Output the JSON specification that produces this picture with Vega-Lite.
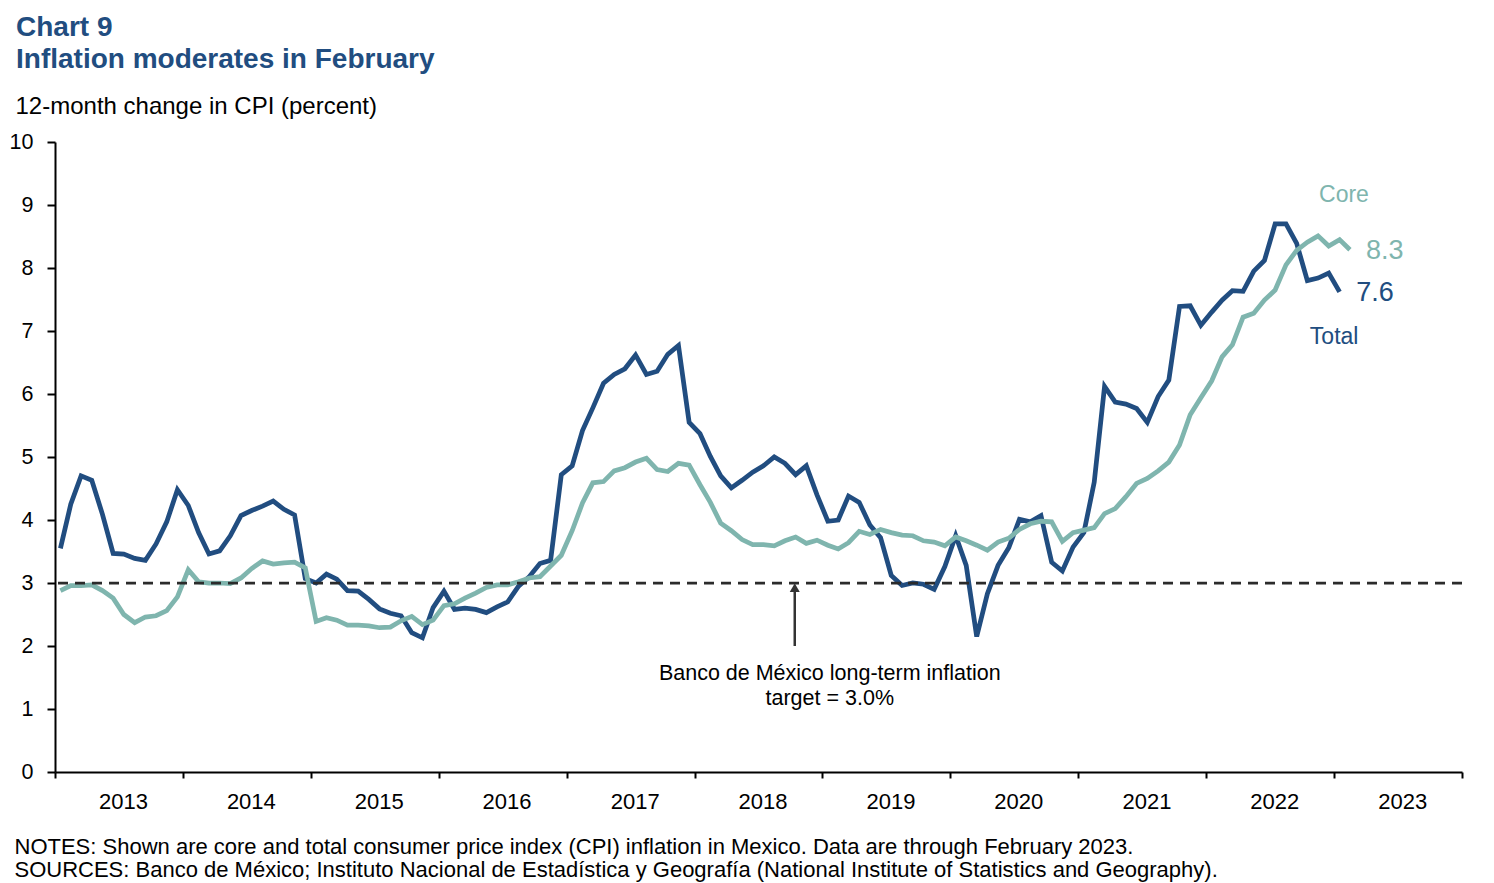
{
  "$schema": "https://vega.github.io/schema/vega-lite/v6.json",
  "width": 1407,
  "height": 630,
  "autosize": {"type": "none"},
  "padding": {"left": 55, "top": 142, "right": 32, "bottom": 111},
  "background": "white",
  "title": {
    "text": ["Chart 9", "Inflation moderates in February"],
    "anchor": "start",
    "frame": "group",
    "fontSize": 28,
    "fontWeight": "bold",
    "color": "#214d80",
    "lineHeight": 31.6,
    "dx": -39,
    "dy": -20,
    "offset": 0
  },
  "config": {
    "view": {"stroke": null},
    "font": "Liberation Sans",
    "text": {"font": "Liberation Sans"}
  },
  "data": {
    "format": {"parse": {"month": "utc:'%Y-%m'"}},
    "values": [
      {"month": "2013-01", "Core": 2.88, "Total": 3.55},
      {"month": "2013-02", "Core": 2.96, "Total": 4.25},
      {"month": "2013-03", "Core": 2.96, "Total": 4.70},
      {"month": "2013-04", "Core": 2.97, "Total": 4.63},
      {"month": "2013-05", "Core": 2.88, "Total": 4.09},
      {"month": "2013-06", "Core": 2.76, "Total": 3.47},
      {"month": "2013-07", "Core": 2.50, "Total": 3.46},
      {"month": "2013-08", "Core": 2.37, "Total": 3.39},
      {"month": "2013-09", "Core": 2.46, "Total": 3.36},
      {"month": "2013-10", "Core": 2.48, "Total": 3.62},
      {"month": "2013-11", "Core": 2.56, "Total": 3.97},
      {"month": "2013-12", "Core": 2.78, "Total": 4.48},
      {"month": "2014-01", "Core": 3.21, "Total": 4.23},
      {"month": "2014-02", "Core": 3.02, "Total": 3.80},
      {"month": "2014-03", "Core": 3.00, "Total": 3.46},
      {"month": "2014-04", "Core": 3.00, "Total": 3.51},
      {"month": "2014-05", "Core": 2.99, "Total": 3.75},
      {"month": "2014-06", "Core": 3.08, "Total": 4.07},
      {"month": "2014-07", "Core": 3.23, "Total": 4.15},
      {"month": "2014-08", "Core": 3.35, "Total": 4.22},
      {"month": "2014-09", "Core": 3.30, "Total": 4.30},
      {"month": "2014-10", "Core": 3.32, "Total": 4.17},
      {"month": "2014-11", "Core": 3.33, "Total": 4.08},
      {"month": "2014-12", "Core": 3.24, "Total": 3.07},
      {"month": "2015-01", "Core": 2.39, "Total": 3.00},
      {"month": "2015-02", "Core": 2.45, "Total": 3.14},
      {"month": "2015-03", "Core": 2.41, "Total": 3.06},
      {"month": "2015-04", "Core": 2.33, "Total": 2.88},
      {"month": "2015-05", "Core": 2.33, "Total": 2.87},
      {"month": "2015-06", "Core": 2.32, "Total": 2.74},
      {"month": "2015-07", "Core": 2.29, "Total": 2.59},
      {"month": "2015-08", "Core": 2.30, "Total": 2.52},
      {"month": "2015-09", "Core": 2.40, "Total": 2.48},
      {"month": "2015-10", "Core": 2.47, "Total": 2.21},
      {"month": "2015-11", "Core": 2.34, "Total": 2.13},
      {"month": "2015-12", "Core": 2.41, "Total": 2.61},
      {"month": "2016-01", "Core": 2.64, "Total": 2.87},
      {"month": "2016-02", "Core": 2.67, "Total": 2.58},
      {"month": "2016-03", "Core": 2.76, "Total": 2.60},
      {"month": "2016-04", "Core": 2.84, "Total": 2.58},
      {"month": "2016-05", "Core": 2.93, "Total": 2.53},
      {"month": "2016-06", "Core": 2.97, "Total": 2.62},
      {"month": "2016-07", "Core": 2.97, "Total": 2.70},
      {"month": "2016-08", "Core": 3.02, "Total": 2.95},
      {"month": "2016-09", "Core": 3.08, "Total": 3.10},
      {"month": "2016-10", "Core": 3.10, "Total": 3.31},
      {"month": "2016-11", "Core": 3.27, "Total": 3.36},
      {"month": "2016-12", "Core": 3.44, "Total": 4.72},
      {"month": "2017-01", "Core": 3.83, "Total": 4.86},
      {"month": "2017-02", "Core": 4.27, "Total": 5.42},
      {"month": "2017-03", "Core": 4.59, "Total": 5.78},
      {"month": "2017-04", "Core": 4.61, "Total": 6.17},
      {"month": "2017-05", "Core": 4.78, "Total": 6.31},
      {"month": "2017-06", "Core": 4.83, "Total": 6.40},
      {"month": "2017-07", "Core": 4.92, "Total": 6.62},
      {"month": "2017-08", "Core": 4.98, "Total": 6.31},
      {"month": "2017-09", "Core": 4.80, "Total": 6.36},
      {"month": "2017-10", "Core": 4.77, "Total": 6.63},
      {"month": "2017-11", "Core": 4.90, "Total": 6.77},
      {"month": "2017-12", "Core": 4.87, "Total": 5.55},
      {"month": "2018-01", "Core": 4.56, "Total": 5.37},
      {"month": "2018-02", "Core": 4.28, "Total": 5.01},
      {"month": "2018-03", "Core": 3.95, "Total": 4.70},
      {"month": "2018-04", "Core": 3.83, "Total": 4.51},
      {"month": "2018-05", "Core": 3.69, "Total": 4.63},
      {"month": "2018-06", "Core": 3.61, "Total": 4.76},
      {"month": "2018-07", "Core": 3.61, "Total": 4.86},
      {"month": "2018-08", "Core": 3.59, "Total": 5.00},
      {"month": "2018-09", "Core": 3.67, "Total": 4.90},
      {"month": "2018-10", "Core": 3.73, "Total": 4.72},
      {"month": "2018-11", "Core": 3.63, "Total": 4.86},
      {"month": "2018-12", "Core": 3.68, "Total": 4.40},
      {"month": "2019-01", "Core": 3.60, "Total": 3.98},
      {"month": "2019-02", "Core": 3.54, "Total": 4.00},
      {"month": "2019-03", "Core": 3.64, "Total": 4.38},
      {"month": "2019-04", "Core": 3.82, "Total": 4.28},
      {"month": "2019-05", "Core": 3.77, "Total": 3.92},
      {"month": "2019-06", "Core": 3.85, "Total": 3.72},
      {"month": "2019-07", "Core": 3.80, "Total": 3.12},
      {"month": "2019-08", "Core": 3.76, "Total": 2.96},
      {"month": "2019-09", "Core": 3.75, "Total": 3.00},
      {"month": "2019-10", "Core": 3.67, "Total": 2.98},
      {"month": "2019-11", "Core": 3.65, "Total": 2.90},
      {"month": "2019-12", "Core": 3.59, "Total": 3.26},
      {"month": "2020-01", "Core": 3.73, "Total": 3.75},
      {"month": "2020-02", "Core": 3.67, "Total": 3.28},
      {"month": "2020-03", "Core": 3.60, "Total": 2.15},
      {"month": "2020-04", "Core": 3.52, "Total": 2.83},
      {"month": "2020-05", "Core": 3.65, "Total": 3.28},
      {"month": "2020-06", "Core": 3.71, "Total": 3.56},
      {"month": "2020-07", "Core": 3.85, "Total": 4.01},
      {"month": "2020-08", "Core": 3.94, "Total": 3.97},
      {"month": "2020-09", "Core": 3.98, "Total": 4.07},
      {"month": "2020-10", "Core": 3.97, "Total": 3.33},
      {"month": "2020-11", "Core": 3.66, "Total": 3.19},
      {"month": "2020-12", "Core": 3.80, "Total": 3.57},
      {"month": "2021-01", "Core": 3.84, "Total": 3.80},
      {"month": "2021-02", "Core": 3.88, "Total": 4.60},
      {"month": "2021-03", "Core": 4.10, "Total": 6.12},
      {"month": "2021-04", "Core": 4.18, "Total": 5.87},
      {"month": "2021-05", "Core": 4.37, "Total": 5.84},
      {"month": "2021-06", "Core": 4.58, "Total": 5.77},
      {"month": "2021-07", "Core": 4.66, "Total": 5.55},
      {"month": "2021-08", "Core": 4.78, "Total": 5.96},
      {"month": "2021-09", "Core": 4.92, "Total": 6.22},
      {"month": "2021-10", "Core": 5.19, "Total": 7.39},
      {"month": "2021-11", "Core": 5.67, "Total": 7.40},
      {"month": "2021-12", "Core": 5.94, "Total": 7.09},
      {"month": "2022-01", "Core": 6.21, "Total": 7.30},
      {"month": "2022-02", "Core": 6.59, "Total": 7.49},
      {"month": "2022-03", "Core": 6.78, "Total": 7.64},
      {"month": "2022-04", "Core": 7.22, "Total": 7.63},
      {"month": "2022-05", "Core": 7.28, "Total": 7.95},
      {"month": "2022-06", "Core": 7.49, "Total": 8.12},
      {"month": "2022-07", "Core": 7.65, "Total": 8.70},
      {"month": "2022-08", "Core": 8.05, "Total": 8.70},
      {"month": "2022-09", "Core": 8.28, "Total": 8.39},
      {"month": "2022-10", "Core": 8.41, "Total": 7.80},
      {"month": "2022-11", "Core": 8.51, "Total": 7.84},
      {"month": "2022-12", "Core": 8.35, "Total": 7.92},
      {"month": "2023-01", "Core": 8.45, "Total": 7.62},
      {"month": "2023-02", "Core": 8.29}
    ]
  },
  "layer": [
    {
      "mark": {"type": "line", "color": "#214d80", "strokeWidth": 4.75, "strokeJoin": "miter", "strokeCap": "butt"},
      "encoding": {
        "x": {
          "field": "month",
          "timeUnit": "utcyearmonth",
          "type": "temporal",
          "bandPosition": 0.5,
          "scale": {
            "type": "utc",
            "domain": [
              {"year": 2013, "month": 1, "date": 1, "utc": true},
              {"year": 2024, "month": 1, "date": 1, "utc": true}
            ]
          },
          "axis": {
            "values": [
              {"year": 2013, "month": 1, "date": 1, "utc": true},
              {"year": 2014, "month": 1, "date": 1, "utc": true},
              {"year": 2015, "month": 1, "date": 1, "utc": true},
              {"year": 2016, "month": 1, "date": 1, "utc": true},
              {"year": 2017, "month": 1, "date": 1, "utc": true},
              {"year": 2018, "month": 1, "date": 1, "utc": true},
              {"year": 2019, "month": 1, "date": 1, "utc": true},
              {"year": 2020, "month": 1, "date": 1, "utc": true},
              {"year": 2021, "month": 1, "date": 1, "utc": true},
              {"year": 2022, "month": 1, "date": 1, "utc": true},
              {"year": 2023, "month": 1, "date": 1, "utc": true},
              {"year": 2024, "month": 1, "date": 1, "utc": true}
            ],
            "labelExpr": "utcyear(datum.value) > 2023 ? '' : utcFormat(datum.value, '%Y')",
            "labelOffset": 68,
            "labelAlign": "center",
            "labelBaseline": "alphabetic",
            "labelPadding": 30,
            "labelFontSize": 22,
            "labelColor": "#000000",
            "labelFont": "Liberation Sans",
            "labelOverlap": false,
            "labelFlush": false,
            "tickSize": 6,
            "tickWidth": 2,
            "tickColor": "#000000",
            "domainColor": "#000000",
            "domainWidth": 2,
            "grid": false,
            "title": [
              "NOTES: Shown are core and total consumer price index (CPI) inflation in Mexico. Data are through February 2023.",
              "SOURCES: Banco de México; Instituto Nacional de Estadística y Geografía (National Institute of Statistics and Geography)."
            ],
            "titleX": -41,
            "titleY": 81,
            "titleAlign": "left",
            "titleAnchor": "start",
            "titleBaseline": "alphabetic",
            "titleFontSize": 22,
            "titleFontWeight": "normal",
            "titleColor": "#000000",
            "titleFont": "Liberation Sans",
            "titleLineHeight": 23.5
          }
        },
        "y": {
          "field": "Total",
          "type": "quantitative",
          "scale": {"domain": [0, 10], "nice": false, "zero": true},
          "axis": {
            "values": [0, 1, 2, 3, 4, 5, 6, 7, 8, 9, 10],
            "format": "d",
            "tickSize": 8,
            "tickWidth": 2,
            "tickColor": "#000000",
            "domainColor": "#000000",
            "domainWidth": 2,
            "grid": false,
            "labelFontSize": 21.5,
            "labelColor": "#000000",
            "labelFont": "Liberation Sans",
            "labelPadding": 14,
            "title": "12-month change in CPI (percent)",
            "titleAngle": 0,
            "titleAlign": "left",
            "titleBaseline": "alphabetic",
            "titleX": -40,
            "titleY": -29,
            "titleFontSize": 24,
            "titleFontWeight": "normal",
            "titleColor": "#000000",
            "titleFont": "Liberation Sans"
          }
        }
      }
    },
    {
      "mark": {"type": "line", "color": "#7fb5ae", "strokeWidth": 4.75, "strokeJoin": "miter", "strokeCap": "butt"},
      "encoding": {
        "x": {"field": "month", "timeUnit": "utcyearmonth", "type": "temporal", "bandPosition": 0.5},
        "y": {"field": "Core", "type": "quantitative"}
      }
    },
    {
      "data": {"values": [{}]},
      "mark": {"type": "rule", "color": "#2b2b2b", "strokeWidth": 2.75, "strokeDash": [10, 7]},
      "encoding": {"y": {"datum": 3}}
    },
    {
      "data": {"values": [{}]},
      "mark": {"type": "rule", "color": "#333333", "strokeWidth": 2.5},
      "encoding": {
        "x": {"datum": {"year": 2018, "month": 10, "date": 14, "utc": true}, "type": "temporal"},
        "y": {"datum": 2.0},
        "y2": {"datum": 2.9}
      }
    },
    {
      "data": {"values": [{}]},
      "mark": {"type": "point", "shape": "triangle-up", "filled": true, "color": "#333333", "size": 100, "opacity": 1},
      "encoding": {
        "x": {"datum": {"year": 2018, "month": 10, "date": 14, "utc": true}, "type": "temporal"},
        "y": {"datum": 2.927}
      }
    },
    {
      "data": {"values": [{}]},
      "mark": {"type": "text", "text": ["Banco de México long-term inflation", "target = 3.0%"], "align": "center", "baseline": "alphabetic", "fontSize": 21.5, "lineHeight": 25, "color": "#000000"},
      "encoding": {
        "x": {"datum": {"year": 2019, "month": 1, "date": 22, "utc": true}, "type": "temporal"},
        "y": {"datum": 1.46}
      }
    },
    {
      "data": {"values": [{}]},
      "mark": {"type": "text", "text": "Core", "align": "center", "baseline": "alphabetic", "fontSize": 23, "color": "#7fb5ae"},
      "encoding": {
        "x": {"datum": {"year": 2023, "month": 1, "date": 29, "utc": true}, "type": "temporal"},
        "y": {"datum": 9.043}
      }
    },
    {
      "data": {"values": [{}]},
      "mark": {"type": "text", "text": "8.3", "align": "left", "baseline": "alphabetic", "fontSize": 27, "color": "#7fb5ae"},
      "encoding": {
        "x": {"datum": {"year": 2023, "month": 4, "date": 2, "utc": true}, "type": "temporal"},
        "y": {"datum": 8.138}
      }
    },
    {
      "data": {"values": [{}]},
      "mark": {"type": "text", "text": "7.6", "align": "left", "baseline": "alphabetic", "fontSize": 27, "color": "#214d80"},
      "encoding": {
        "x": {"datum": {"year": 2023, "month": 3, "date": 5, "utc": true}, "type": "temporal"},
        "y": {"datum": 7.476}
      }
    },
    {
      "data": {"values": [{}]},
      "mark": {"type": "text", "text": "Total", "align": "center", "baseline": "alphabetic", "fontSize": 23, "color": "#214d80"},
      "encoding": {
        "x": {"datum": {"year": 2023, "month": 1, "date": 1, "utc": true}, "type": "temporal"},
        "y": {"datum": 6.798}
      }
    }
  ]
}
